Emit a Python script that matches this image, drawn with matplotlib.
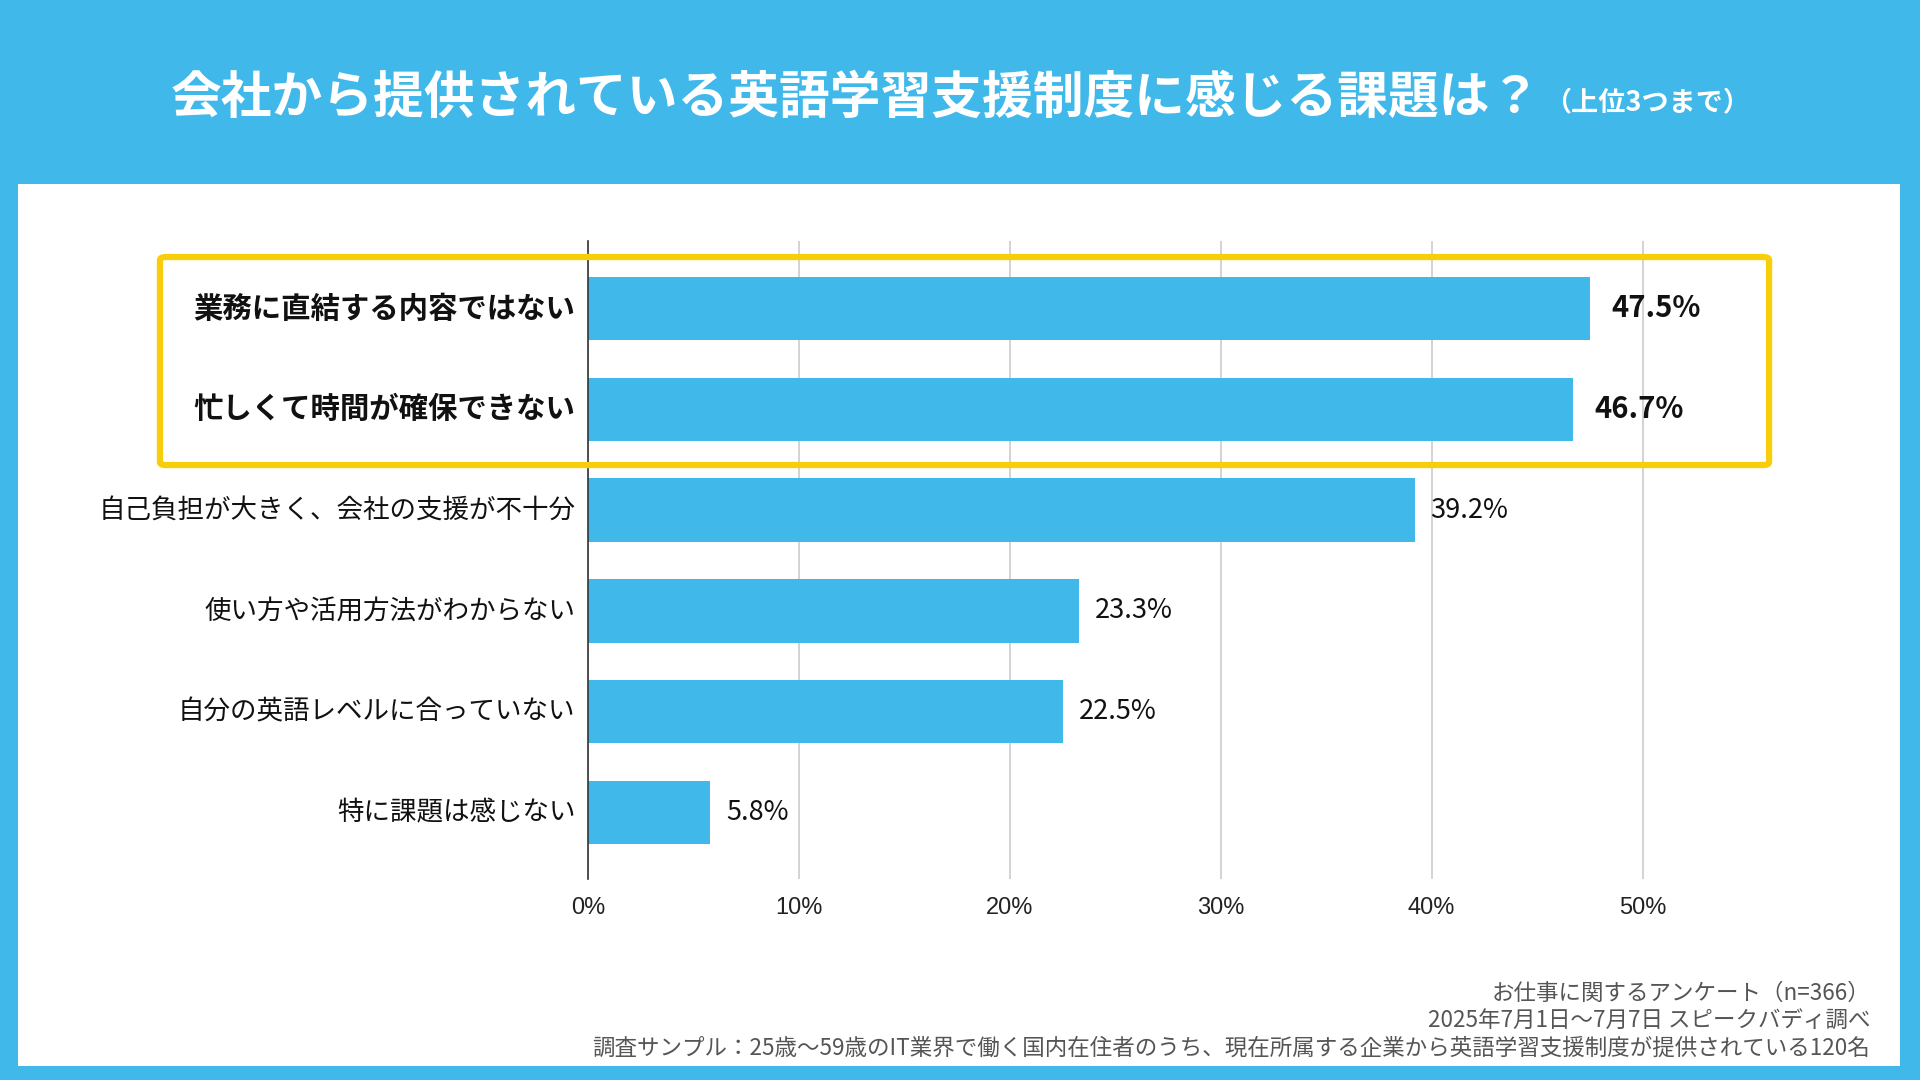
import matplotlib.pyplot as plt
from matplotlib.patches import Rectangle, FancyBboxPatch
from matplotlib.ticker import FuncFormatter

plt.rcParams['font.family'] = ['Noto Sans CJK JP', 'DejaVu Sans']

# データ
categories = [
    "業務に直結する内容ではない",
    "忙しくて時間が確保できない",
    "自己負担が大きく、会社の支援が不十分",
    "使い方や活用方法がわからない",
    "自分の英語レベルに合っていない",
    "特に課題は感じない",
]
values = [47.5, 46.7, 39.2, 23.3, 22.5, 5.8]
highlighted = [True, True, False, False, False, False]
x_ticks = [0, 10, 20, 30, 40, 50]

title = "会社から提供されている英語学習支援制度に感じる課題は？"
subtitle = "（上位3つまで）"
footer_lines = [
    "お仕事に関するアンケート（n=366）",
    "2025年7月1日〜7月7日 スピークバディ調べ",
    "調査サンプル：25歳〜59歳のIT業界で働く国内在住者のうち、現在所属する企業から英語学習支援制度が提供されている120名",
]

blue = "#40B8EA"
yellow = "#F8CD0C"

fig = plt.figure(figsize=(19.2, 10.8), dpi=100, facecolor=blue)

# 白いパネル
fig.patches.append(Rectangle((0.0094, 0.013), 0.980, 0.8166, transform=fig.transFigure,
                             facecolor="white", edgecolor="none", zorder=0))

# タイトル
fig.text(0.089, 0.909, title, color="white", fontsize=36.5, fontweight="bold",
         ha="left", va="center")
fig.text(0.804, 0.905, subtitle, color="white", fontsize=19.5, fontweight="bold",
         ha="left", va="center")

ax = fig.add_axes([0.30625, 0.1861, 0.6042, 0.5908])
ax.set_zorder(2)
ax.set_facecolor("none")
y = list(range(len(categories)))
ax.barh(y, values, height=0.63, color=blue, zorder=3)

ax.set_xlim(0, 55)
ax.set_ylim(5.66, -0.67)
ax.set_xticks(x_ticks)
ax.xaxis.set_major_formatter(FuncFormatter(lambda v, p: f"{v:.0f}%"))
ax.tick_params(axis="x", length=0, pad=13, labelsize=17, labelcolor="#222222")
for lab in ax.get_xticklabels():
    lab.set_fontfamily(["Liberation Sans", "DejaVu Sans"])
ax.set_yticks([])
ax.grid(axis="x", color="#CCCCCC", linewidth=1.2, zorder=0)
for s in ["top", "right", "bottom"]:
    ax.spines[s].set_visible(False)
ax.spines["left"].set_color("#333333")
ax.spines["left"].set_linewidth(1.2)
ax.spines["left"].set_zorder(4)

for i, (cat, val, hi) in enumerate(zip(categories, values, highlighted)):
    weight = "bold" if hi else "normal"
    ax.text(-0.6, i, cat, ha="right", va="center", fontsize=21.2 if hi else 19.1,
            fontweight=weight, color="#111111")
    ax.text(val + (1.0 if hi else 0.75), i, f"{val:.1f}%", ha="left", va="center",
            fontsize=21 if hi else 19.5, fontweight=weight, color="#111111")

# 黄色い枠
fig.patches.append(FancyBboxPatch((0.0833, 0.5694), 0.8381, 0.1926,
                                  boxstyle="round,pad=0,rounding_size=0.003",
                                  transform=fig.transFigure, facecolor="none",
                                  edgecolor=yellow, linewidth=4.5, zorder=5))

# 注記
for k, line in enumerate(footer_lines):
    fig.text(0.974, 0.0806 - k * 0.0255, line, ha="right", va="center",
             fontsize=16.2, color="#555555")

fig.savefig("out.png", dpi=100, facecolor=fig.get_facecolor())
